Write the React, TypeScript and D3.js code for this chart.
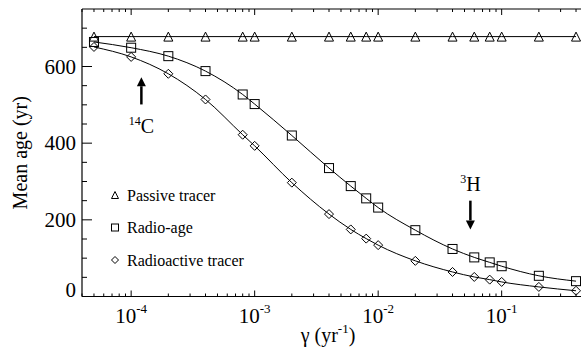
import React from "react";
import * as d3 from "d3";

// decay rate gamma (yr^-1) of each run
const gammas = [5e-5, 1e-4, 2e-4, 4e-4, 8e-4, 1e-3, 2e-3, 4e-3, 6e-3, 8e-3, 1e-2, 2e-2, 4e-2, 6e-2, 8e-2, 0.1, 0.2, 0.4];

// mean age (yr)
const passiveAge = [678, 678, 678, 678, 678, 678, 678, 678, 678, 678, 678, 678, 678, 678, 678, 678, 678, 678];
const radioAge = [664, 649, 627, 588, 527, 502, 420, 335, 288, 256, 232, 173, 124, 102, 89, 79, 54, 40];
const radioactiveAge = [651, 625, 581, 514, 422, 393, 297, 215, 175, 151, 134, 93, 64, 51, 44, 38, 25, 15];

const yTicks = d3.range(0, 750, 50);
const yLabels = [0, 200, 400, 600];

// annotations: tracer, gamma, arrow tail / tip age, label age
const notes = [
  { sup: "14", base: "C", gamma: 1.21e-4, from: 501, to: 572, labelAt: 427 },
  { sup: "3", base: "H", gamma: 5.58e-2, from: 250, to: 175, labelAt: 276 },
];

const W = 581;
const H = 352;
const left = 82;
const right = 588;
const top = 9;
const bottom = 296.5;
const font = '"Liberation Serif"';

function Marker({ kind, x, y, s }: { kind: string; x: number; y: number; s: number }) {
  const h = s / 2;
  if (kind === "tri")
    return <path d={`M${x},${y - h}L${x + h},${y + h}L${x - h},${y + h}Z`} fill="none" stroke="#000" strokeWidth={1} />;
  if (kind === "sq")
    return <rect x={x - h} y={y - h} width={s} height={s} fill="none" stroke="#000" strokeWidth={1} />;
  return <path d={`M${x},${y - h}L${x + h},${y}L${x},${y + h}L${x - h},${y}Z`} fill="none" stroke="#000" strokeWidth={1} />;
}

export default function App() {
  const x = d3.scaleLog().domain([4e-5, 0.5]).range([left, right]);
  const y = d3.scaleLinear().domain([0, 750]).range([bottom, top]);

  const line = d3.line<number>()
    .x((_, i) => x(gammas[i]))
    .y(d => y(d))
    .curve(d3.curveMonotoneX);

  const xTicks = x.ticks();
  const isDecade = (v: number) => Math.abs(Math.log10(v) - Math.round(Math.log10(v))) < 1e-6;
  const decades = xTicks.filter(isDecade);

  const series = [
    { kind: "tri", values: passiveAge, name: "Passive tracer" },
    { kind: "sq", values: radioAge, name: "Radio-age" },
    { kind: "dia", values: radioactiveAge, name: "Radioactive tracer" },
  ];

  return (
    <svg width={W} height={H} style={{ position: "absolute", left: 0, top: 0, background: "#fff", fontFamily: font }}>
      {/* curves */}
      {series.map(s => (
        <path key={s.name} d={line(s.values) ?? ""} fill="none" stroke="#000" strokeWidth={1} />
      ))}
      {series.map(s =>
        s.values.map((v, i) => <Marker key={s.name + i} kind={s.kind} x={x(gammas[i])} y={y(v)} s={9} />)
      )}

      {/* axes */}
      <line x1={left} x2={right} y1={bottom} y2={bottom} stroke="#000" strokeWidth={1.2} />
      <line x1={left} x2={right} y1={top} y2={top} stroke="#000" strokeWidth={1.2} />
      <line x1={left} x2={left} y1={top} y2={bottom} stroke="#000" strokeWidth={1.2} />
      {xTicks.map(t => {
        const len = isDecade(t) ? 6 : 3;
        return (
          <g key={"xt" + t}>
            <line x1={x(t)} x2={x(t)} y1={bottom} y2={bottom - len} stroke="#000" />
            <line x1={x(t)} x2={x(t)} y1={top} y2={top + len} stroke="#000" />
          </g>
        );
      })}
      {yTicks.map(t => (
        <line key={"yt" + t} x1={left} x2={left + (yLabels.includes(t) ? 10 : 5)} y1={y(t)} y2={y(t)} stroke="#000" />
      ))}
      {yLabels.map(t => (
        <text key={"yl" + t} x={left - 6} y={Math.min(y(t) + 7, bottom)} textAnchor="end" fontSize={21}>{t}</text>
      ))}
      {decades.map(t => (
        <text key={"xl" + t} x={x(t)} y={323} textAnchor="middle" fontSize={21}>
          10<tspan fontSize={13} dy={-10}>{String(Math.round(Math.log10(t)))}</tspan>
        </text>
      ))}

      {/* axis titles */}
      <text x={328} y={342} textAnchor="middle" fontSize={20}>
        γ (yr<tspan fontSize={13} dy={-9}>-1</tspan><tspan dy={9}>)</tspan>
      </text>
      <text transform={`translate(27,${(top + bottom) / 2}) rotate(-90)`} textAnchor="middle" fontSize={20}>Mean age (yr)</text>

      {/* legend */}
      {series.map((s, i) => (
        <g key={"lg" + s.name} transform={`translate(115,${195 + i * 32.5})`}>
          <Marker kind={s.kind} x={0} y={0} s={7} />
          <text x={12} y={5.5} fontSize={16}>{s.name}</text>
        </g>
      ))}

      {/* isotope arrows */}
      {notes.map(n => {
        const ax = x(n.gamma);
        const y0 = y(n.from);
        const y1 = y(n.to);
        const dir = y1 < y0 ? 1 : -1;
        const head = 9;
        return (
          <g key={n.base}>
            <line x1={ax} x2={ax} y1={y0} y2={y1 + dir * head} stroke="#000" strokeWidth={2.5} />
            <path d={`M${ax},${y1}L${ax + 4.5},${y1 + dir * head}L${ax - 4.5},${y1 + dir * head}Z`} fill="#000" />
            <text x={ax} y={y(n.labelAt)} textAnchor="middle" fontSize={20}>
              <tspan fontSize={12} dy={-8}>{n.sup}</tspan><tspan dy={8}>{n.base}</tspan>
            </text>
          </g>
        );
      })}
    </svg>
  );
}
